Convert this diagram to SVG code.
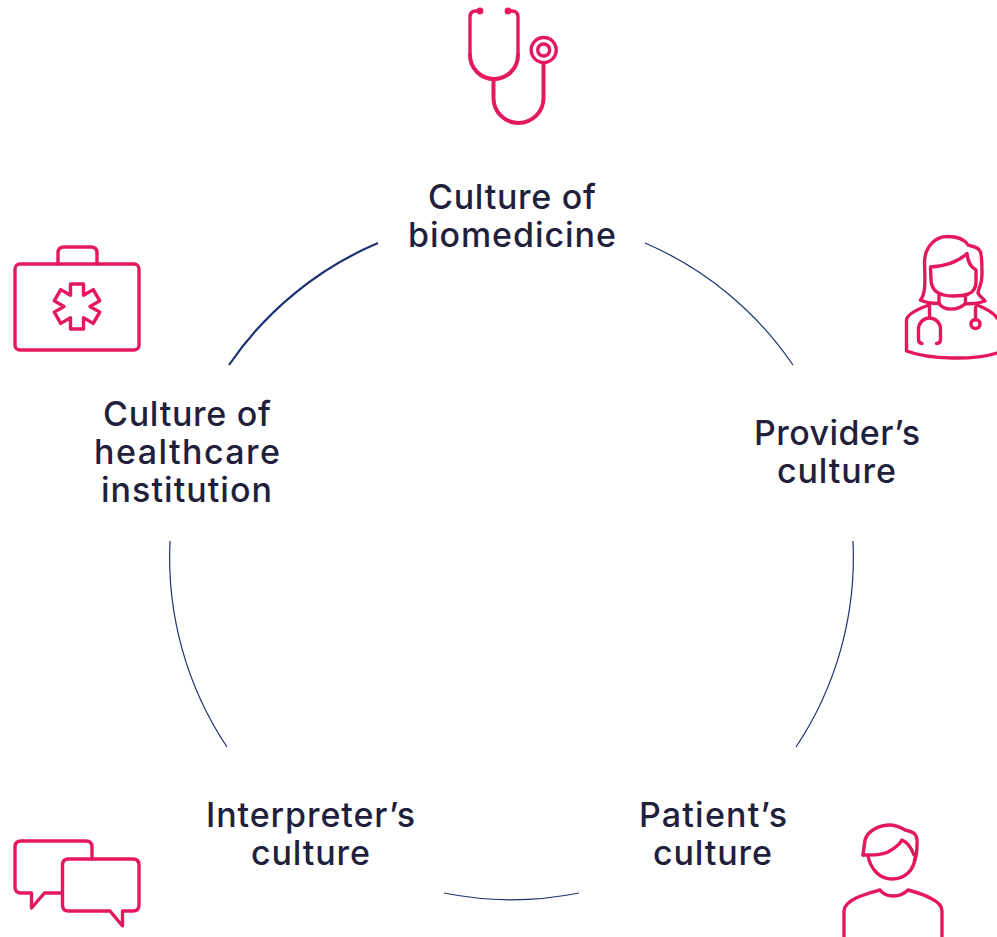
<svg xmlns="http://www.w3.org/2000/svg" width="997" height="937" viewBox="0 0 997 937">
<style>
.ic{fill:none;stroke:#e5175f;stroke-width:3.4;stroke-linecap:round;stroke-linejoin:round}
.arc{fill:none;stroke:#1c3170;stroke-width:1.2}
.t{font-family:"Inter","Liberation Sans",sans-serif;font-size:34px;font-weight:500;fill:#211f3c;text-anchor:middle}
</style>
<rect width="997" height="937" fill="#fff"/>
<g id="connectors">
<path class="arc" style="stroke-width:2.2" d="M378 243A342 342 0 0 0 229 365"/>
<path class="arc" d="M645 243A342 342 0 0 1 793 365"/>
<path class="arc" d="M853 541A342 342 0 0 1 796 747"/>
<path class="arc" d="M579 893A342 342 0 0 1 444 893"/>
<path class="arc" d="M227 747A342 342 0 0 1 170 541"/>
</g>
<g id="biomedicine">
<path class="ic" d="M478 11H476Q470 11 470 17V55M518 55V17Q518 11 512 11H510"/>
<path class="ic" style="stroke-width:4" d="M470 55A24 24 0 0 0 518 55"/>
<circle cx="480" cy="11" r="3.4" fill="#e5175f"/><circle cx="508" cy="11" r="3.4" fill="#e5175f"/>
<path class="ic" style="stroke-width:4" d="M493.500 79V98A25 25 0 0 0 543.500 98V63"/>
<circle class="ic" cx="543.700" cy="50" r="12.500"/><circle class="ic" cx="543.700" cy="50" r="6"/>
<text class="t" x="512" y="209" textLength="168">Culture of</text><text class="t" x="512" y="247" textLength="208">biomedicine</text>
</g>
<g id="provider">
<path class="ic" d="M920.500 300C926 294 925 280 924.500 262C925 245 937 236.500 947 236.500C958 236.500 965 240 968 245C973 247 977 246 980 251C982 254 982 262 982 275C982 285 978 289 978 293C979 296 983 298 985 301C977 304 970 304 965.500 303.500V295M920.500 300C926 303 933 303.500 939 303.500V295"/>
<path class="ic" d="M930.500 267C948 266 960 260 967 253.500C968 262 970 267 976 270V282C976 295 964 296 953 296C942 296 931.500 293 931 280Z"/>
<path class="ic" d="M939 303.500C944 311 958 311 965.500 303.500"/>
<path class="ic" d="M929 305C918 309 907 314 906.500 320V351C930 360 975 360 997 353M977 305C985 308 993 312 997 318"/>
<path class="ic" d="M929.500 305V318M922 343.500C920 343.500 918.500 342 918.500 339V329A11 11 0 0 1 940.500 329V339C940.500 342 939 343.500 936.500 343.500"/>
<path class="ic" d="M975.500 307V320"/><circle class="ic" cx="975.500" cy="324" r="4.500"/>
<text class="t" x="837" y="445" textLength="166">Provider’s</text><text class="t" x="836.500" y="483" textLength="119">culture</text>
</g>
<g id="patient">
<path class="ic" d="M863 855L865 840C868 830 880 825 890 825C897 825 901 828 905 830C914 832 918 834 917 845C917 851 916 857 915 860"/>
<path class="ic" d="M863 855C875 855 882 855 888 852C895 848 900 844 902 840C907 842 911 847 914 855"/>
<path class="ic" d="M868 856C871 870 880 879 892 879C905 879 914 870 915 858"/>
<path class="ic" d="M844 937V911C844 905 850 901 856 898C865 894 873 892 880 890C886 898 900 898 908 890C916 892 925 895 932 899C938 902 942 906 942 911V937"/>
<text class="t" x="713" y="827" textLength="148">Patient’s</text><text class="t" x="712.500" y="865" textLength="119">culture</text>
</g>
<g id="interpreter">
<path class="ic" d="M62 893H44.500L31.500 908V893H21Q15 893 15 887V847Q15 841 21 841H86Q92 841 92 847V859"/>
<path class="ic" d="M68.500 859H133Q139 859 139 865V905Q139 911 133 911H122.500V926L110 911H68.500Q62.500 911 62.500 905V865Q62.500 859 68.500 859Z"/>
<text class="t" x="310.500" y="827" textLength="209">Interpreter’s</text><text class="t" x="310.500" y="865" textLength="119">culture</text>
</g>
<g id="institution">
<rect class="ic" x="15" y="264" width="124" height="86" rx="5"/>
<path class="ic" d="M58 264V253Q58 247 64 247H91Q97 247 97 253V264"/>
<path class="ic" d="M70.500 284H83.500V295.200L93.250 289.600L99.750 300.900L90 306.500L99.750 312.100L93.250 323.400L83.500 317.800V329H70.500V317.800L60.750 323.400L54.250 312.100L64 306.500L54.250 300.900L60.750 289.600L70.500 295.200Z"/>
<text class="t" x="187" y="426" textLength="168">Culture of</text><text class="t" x="187" y="464" textLength="186">healthcare</text><text class="t" x="186.500" y="502" textLength="171">institution</text>
</g>
</svg>
